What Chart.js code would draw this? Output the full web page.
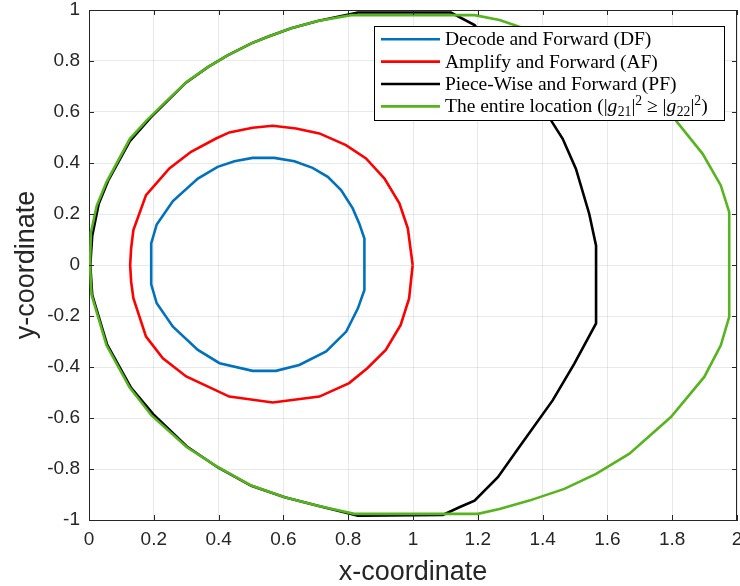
<!DOCTYPE html>
<html><head><meta charset="utf-8">
<script src="https://cdn.jsdelivr.net/npm/chart.js@4/dist/chart.umd.min.js"></script>
<style>html,body{margin:0;padding:0;background:#fff}canvas{display:block}</style>
</head><body>
<canvas id="c" width="740" height="586"></canvas>
<script>
// ---- data ----
const seriesLabels = [
  'Decode and Forward (DF)',
  'Amplify and Forward (AF)',
  'Piece-Wise and Forward (PF)',
  'The entire location (|g21|^2 >= |g22|^2)'
];
// rich text pieces for the last legend entry
const entireLabelPieces = [
  ['The entire location (|', 'n'], ['g', 'i'], ['21', 'sub'], ['|', 'n'], ['2', 'sup'],
  [' \u2265 |', 'n'], ['g', 'i'], ['22', 'sub'], ['|', 'n'], ['2', 'sup'], [')', 'n']
];

const dfX = [0.850,0.850,0.834,0.814,0.778,0.737,0.690,0.634,0.572,0.505,0.449,0.397,0.336,0.259,0.209,0.192,0.192,
             0.192,0.209,0.259,0.336,0.403,0.505,0.577,0.649,0.732,0.794,0.830,0.850,0.850];
const dfY = [0.000,0.104,0.163,0.222,0.294,0.346,0.381,0.407,0.420,0.420,0.407,0.385,0.339,0.251,0.159,0.085,0.000,
             -0.076,-0.150,-0.242,-0.333,-0.385,-0.415,-0.415,-0.392,-0.339,-0.261,-0.170,-0.098,0.000];

const afX = [0.999,0.984,0.958,0.912,0.855,0.793,0.711,0.639,0.567,0.505,0.433,0.392,0.315,0.248,0.176,0.137,0.130,0.127,
             0.130,0.137,0.176,0.228,0.300,0.433,0.567,0.711,0.803,0.859,0.916,0.962,0.988,0.999];
const afY = [0.000,0.144,0.242,0.339,0.418,0.470,0.516,0.535,0.546,0.538,0.520,0.496,0.444,0.379,0.274,0.137,0.065,0.000,
             -0.065,-0.130,-0.281,-0.366,-0.437,-0.516,-0.539,-0.516,-0.463,-0.405,-0.333,-0.235,-0.131,0.000];

const pfX = [0.004,0.010,0.030,0.060,0.126,0.190,0.298,0.368,0.429,0.501,0.552,0.624,0.706,0.830,1.117,1.190,1.426,1.462,1.503,1.544,1.565,
             1.565,1.498,1.431,1.328,1.262,1.190,1.143,1.092,0.830,0.706,0.604,0.501,0.398,0.302,0.198,0.130,0.056,0.010,0.004];
const pfY = [0.000,0.115,0.240,0.333,0.486,0.578,0.714,0.777,0.823,0.869,0.895,0.928,0.957,0.990,0.990,0.941,0.567,0.495,0.377,0.200,0.076,
             -0.229,-0.387,-0.531,-0.714,-0.832,-0.924,-0.950,-0.980,-0.983,-0.944,-0.911,-0.866,-0.794,-0.712,-0.585,-0.482,-0.312,-0.118,0.000];

const entX = [0.003,0.006,0.024,0.054,0.126,0.178,0.234,0.301,0.368,0.429,0.501,0.552,0.624,0.706,0.809,1.190,1.267,1.328,1.467,1.565,1.668,1.811,1.894,1.950,1.976,
              1.976,1.950,1.899,1.796,1.668,1.565,1.467,1.359,1.267,1.200,0.819,0.706,0.604,0.501,0.398,0.301,0.193,0.125,0.054,0.008,0.003];
const entY = [0.000,0.128,0.233,0.325,0.495,0.567,0.637,0.718,0.777,0.823,0.869,0.895,0.928,0.957,0.980,0.980,0.961,0.934,0.878,0.819,0.740,0.567,0.436,0.312,0.207,
              -0.203,-0.315,-0.439,-0.596,-0.740,-0.819,-0.878,-0.924,-0.957,-0.976,-0.976,-0.944,-0.911,-0.865,-0.793,-0.714,-0.590,-0.480,-0.315,-0.118,0.000];

const xTickLabels = ['0','0.2','0.4','0.6','0.8','1','1.2','1.4','1.6','1.8','2'];
const yTickLabels = ['-1','-0.8','-0.6','-0.4','-0.2','0','0.2','0.4','0.6','0.8','1'];
const xTitle = 'x-coordinate';
const yTitle = 'y-coordinate';

// ---- chart ----
const colors = ['#0072BD', '#FF0000', '#000000', '#56B41E'];
const pts = (xs, ys) => xs.map((x, i) => ({x, y: ys[i]}));
const series = [[dfX, dfY], [afX, afY], [pfX, pfY], [entX, entY]];
const axisColor = '#262626';
const gridColor = 'rgba(38,38,38,0.1)';
const tickFont = {family: "'Liberation Sans', Arial, Helvetica, sans-serif", size: 19};

const framePlugin = {
  id: 'frame',
  afterDatasetsDraw(chart) {
    const {ctx, chartArea: a, scales: {x, y}} = chart;
    ctx.save();
    ctx.strokeStyle = axisColor;
    ctx.lineWidth = 1;
    ctx.beginPath();
    ctx.moveTo(a.left, a.top + 0.5); ctx.lineTo(a.right, a.top + 0.5);
    ctx.moveTo(a.right - 0.5, a.top); ctx.lineTo(a.right - 0.5, a.bottom);
    const L = 5;
    x.ticks.forEach(t => {
      const px = Math.round(x.getPixelForValue(t.value)) + 0.5;
      ctx.moveTo(px, a.bottom); ctx.lineTo(px, a.bottom - L);
      ctx.moveTo(px, a.top); ctx.lineTo(px, a.top + L);
    });
    y.ticks.forEach(t => {
      const py = Math.round(y.getPixelForValue(t.value)) + 0.5;
      ctx.moveTo(a.left, py); ctx.lineTo(a.left + L, py);
      ctx.moveTo(a.right, py); ctx.lineTo(a.right - L, py);
    });
    ctx.stroke();
    ctx.restore();
  }
};

const legendPlugin = {
  id: 'texLegend',
  afterDraw(chart) {
    const ctx = chart.ctx;
    const box = {l: 374.5, t: 26.5, r: 724.5, b: 120.5};
    ctx.save();
    ctx.fillStyle = '#fff';
    ctx.fillRect(box.l, box.t, box.r - box.l, box.b - box.t);
    ctx.strokeStyle = '#000';
    ctx.lineWidth = 1;
    ctx.strokeRect(box.l, box.t, box.r - box.l, box.b - box.t);
    const fam = "'Liberation Serif', 'Times New Roman', serif";
    const fs = 19.5;
    const rowH = 22.4;
    chart.data.datasets.forEach((ds, i) => {
      const cy = 39.2 + i * rowH;
      ctx.strokeStyle = ds.borderColor;
      ctx.lineWidth = 2.6;
      ctx.beginPath(); ctx.moveTo(381, cy); ctx.lineTo(440, cy); ctx.stroke();
      ctx.fillStyle = '#000';
      ctx.textBaseline = 'alphabetic';
      ctx.textAlign = 'left';
      const base = cy + 6;
      if (i < 3) {
        ctx.font = fs + 'px ' + fam;
        ctx.fillText(seriesLabels[i], 445, base);
      } else {
        let xx = 445;
        entireLabelPieces.forEach(([txt, kind]) => {
          let f = fs + 'px ' + fam, dy = 0;
          if (kind === 'i') f = 'italic ' + fs + 'px ' + fam;
          if (kind === 'sub') { f = (fs * 0.7) + 'px ' + fam; dy = 4; }
          if (kind === 'sup') { f = (fs * 0.7) + 'px ' + fam; dy = -7; }
          ctx.font = f;
          ctx.fillText(txt, xx, base + dy);
          xx += ctx.measureText(txt).width + (kind === 'i' ? 0.5 : 0);
        });
      }
    });
    ctx.restore();
  }
};

new Chart(document.getElementById('c'), {
  type: 'scatter',
  data: {
    datasets: series.map((s, i) => ({
      label: seriesLabels[i],
      data: pts(s[0], s[1]),
      showLine: true,
      borderColor: colors[i],
      backgroundColor: colors[i],
      borderWidth: 2.6,
      pointRadius: 0,
      tension: 0,
      order: 3 - i
    }))
  },
  options: {
    responsive: false,
    devicePixelRatio: 1,
    animation: false,
    events: [],
    layout: {padding: {left: 0, right: 3, top: 10, bottom: 0}},
    plugins: {legend: {display: false}, tooltip: {enabled: false}},
    scales: {
      x: {
        type: 'linear', min: 0, max: 2,
        afterFit: s => { s.height = 66; s.paddingLeft = 0; s.paddingRight = 0; },
        ticks: {stepSize: 0.2, color: axisColor, font: tickFont, padding: 8, maxRotation: 0,
                callback: (v, i) => xTickLabels[i]},
        grid: {color: gridColor, drawTicks: false},
        border: {color: axisColor, width: 1},
        title: {display: true, text: xTitle, color: axisColor,
                font: {family: tickFont.family, size: 27}, padding: {top: 0, bottom: -3}}
      },
      y: {
        type: 'linear', min: -1, max: 1,
        afterFit: s => { s.width = 89; s.paddingTop = 0; s.paddingBottom = 0; },
        ticks: {stepSize: 0.2, color: axisColor, font: tickFont, padding: 9,
                callback: (v, i) => yTickLabels[i]},
        grid: {color: gridColor, drawTicks: false},
        border: {color: axisColor, width: 1},
        title: {display: true, text: yTitle, color: axisColor,
                font: {family: tickFont.family, size: 27}, padding: {top: 10, bottom: 0}}
      }
    }
  },
  plugins: [framePlugin, legendPlugin]
});
</script>
</body></html>
